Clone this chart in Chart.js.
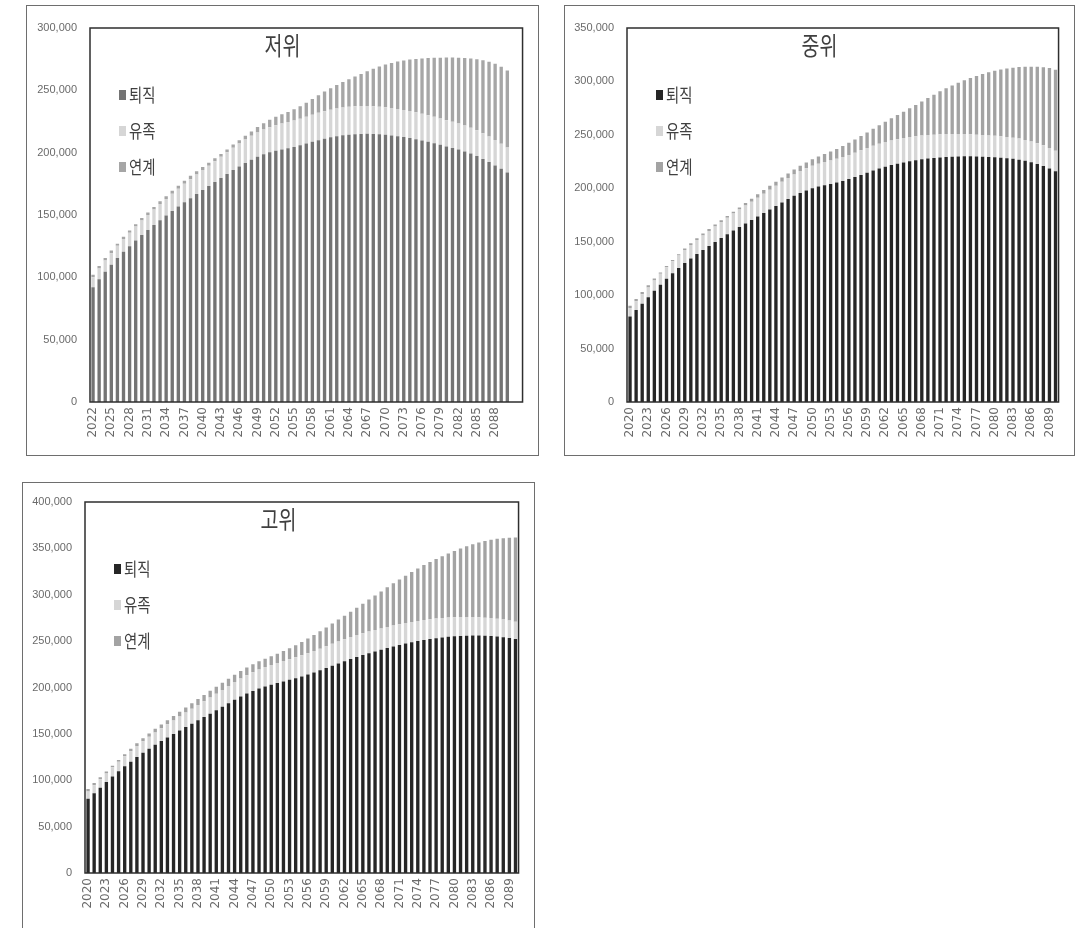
<!DOCTYPE html>
<html>
<head>
<meta charset="utf-8">
<script src="https://cdn.jsdelivr.net/npm/chart.js@4.4.1/dist/chart.umd.min.js"></script>
<style>
  html, body { margin: 0; padding: 0; background: #ffffff; overflow: hidden; width: 1085px; height: 928px; }
  canvas { position: absolute; }
</style>
</head>
<body>
<canvas id="cLow" width="513" height="451" style="left:26px;top:5px;width:513px;height:451px;"></canvas>
<canvas id="cMid" width="511" height="451" style="left:564px;top:5px;width:511px;height:451px;"></canvas>
<canvas id="cHigh" width="513" height="452" style="left:22px;top:482px;width:513px;height:452px;"></canvas>
<script>
// ---------- data ----------
const seriesNames = ['퇴직', '유족', '연계'];
const titles = ['저위', '중위', '고위'];

// 저위 : 2022-2090 (+2 empty slots)
const catsLow = ['2022','2023','2024','2025','2026','2027','2028','2029','2030','2031',
  '2032','2033','2034','2035','2036','2037','2038','2039','2040','2041',
  '2042','2043','2044','2045','2046','2047','2048','2049','2050','2051',
  '2052','2053','2054','2055','2056','2057','2058','2059','2060','2061',
  '2062','2063','2064','2065','2066','2067','2068','2069','2070','2071',
  '2072','2073','2074','2075','2076','2077','2078','2079','2080','2081',
  '2082','2083','2084','2085','2086','2087','2088','2089','2090','',''];
const retireLow = [92000, 98500, 104500, 110000, 115500, 120500, 125000, 129500, 134000, 138000,
  142000, 145800, 149500, 153200, 156800, 160200, 163500, 166800, 170000, 173200,
  176400, 179600, 182800, 186000, 189000, 191800, 194400, 196700, 198700, 200300,
  201600, 202600, 203500, 204600, 205900, 207300, 208700, 210000, 211200, 212300,
  213200, 213900, 214400, 214800, 215000, 215100, 215000, 214700, 214300, 213800,
  213200, 212500, 211700, 210800, 209800, 208700, 207500, 206300, 205000, 203800,
  202500, 201000, 199300, 197300, 195000, 192500, 189800, 187000, 184000];
const survivorLow = [8000, 8500, 9000, 9400, 9800, 10300, 10700, 11200, 11600, 12100,
  12500, 13000, 13400, 13900, 14300, 14800, 15200, 15600, 16000, 16400,
  16800, 17200, 17600, 18000, 18400, 18800, 19200, 19500, 19800, 20100,
  20400, 20700, 21000, 21200, 21400, 21600, 21800, 22000, 22100, 22200,
  22300, 22400, 22400, 22400, 22400, 22300, 22300, 22200, 22100, 22000,
  21900, 21800, 21700, 21600, 21500, 21400, 21300, 21200, 21100, 21000,
  20900, 20800, 20700, 20600, 20500, 20400, 20300, 20200, 20100];
const linkedLow = [2000, 2000, 2000, 2100, 1700, 1700, 1800, 1800, 1900, 1900,
  2000, 2200, 2100, 2400, 2400, 2500, 2800, 2600, 2500, 2400,
  2300, 2200, 2100, 2500, 2600, 2900, 3400, 4300, 5000, 6100,
  6800, 7500, 8200, 9000, 10000, 11100, 12500, 14000, 15700, 17200,
  18800, 20300, 22000, 23800, 25800, 27900, 30000, 32200, 34300, 36200,
  38000, 39700, 41300, 42800, 44300, 45800, 47300, 48700, 50200, 51500,
  52800, 54200, 55600, 57100, 58600, 60000, 61200, 61800, 61900];

// 중위 / 고위 : 2020-2090
const catsMid = ['2020','2021','2022','2023','2024','2025','2026','2027','2028','2029',
  '2030','2031','2032','2033','2034','2035','2036','2037','2038','2039',
  '2040','2041','2042','2043','2044','2045','2046','2047','2048','2049',
  '2050','2051','2052','2053','2054','2055','2056','2057','2058','2059',
  '2060','2061','2062','2063','2064','2065','2066','2067','2068','2069',
  '2070','2071','2072','2073','2074','2075','2076','2077','2078','2079',
  '2080','2081','2082','2083','2084','2085','2086','2087','2088','2089','2090'];
const retireMid = [80000, 86000, 92000, 98000, 104000, 109800, 115300, 120500, 125500, 130000,
  134300, 138400, 142300, 146000, 149800, 153500, 157000, 160400, 163800, 167100,
  170300, 173600, 176900, 180200, 183500, 186800, 190000, 193000, 195700, 198000,
  200000, 201600, 202900, 204100, 205400, 206900, 208600, 210500, 212500, 214600,
  216600, 218500, 220200, 221700, 223000, 224200, 225300, 226300, 227100, 227800,
  228400, 228900, 229300, 229600, 229800, 229900, 229900, 229800, 229600, 229300,
  229000, 228600, 228200, 227600, 226800, 225700, 224300, 222700, 220900, 218600, 216000];
const survivorMid = [8000, 8400, 8800, 9200, 9700, 10200, 10700, 11200, 11700, 12200,
  12700, 13200, 13600, 14000, 14500, 15000, 15400, 15900, 16300, 16800,
  17200, 17600, 18000, 18400, 18800, 19200, 19600, 20000, 20400, 20700,
  21000, 21300, 21600, 21900, 22200, 22400, 22600, 22800, 23000, 23100,
  23200, 23200, 23200, 23100, 23000, 22800, 22600, 22400, 22200, 22000,
  21800, 21600, 21400, 21200, 21000, 20800, 20600, 20400, 20300, 20200,
  20100, 20000, 19900, 19800, 19700, 19600, 19500, 19400, 19300, 19200, 19100];
const linkedMid = [2000, 2100, 2200, 2000, 1800, 1300, 1200, 1100, 1100, 1400,
  1500, 1600, 1700, 1800, 1700, 1600, 1700, 1800, 2000, 2300,
  2800, 3200, 3500, 3700, 3900, 4000, 4200, 4600, 4900, 5500,
  6100, 6800, 7600, 8400, 9200, 10200, 11300, 12400, 13500, 14600,
  15900, 17300, 18900, 20700, 22600, 24700, 27000, 29300, 31900, 34600,
  37400, 40200, 42900, 45500, 48000, 50400, 52700, 54900, 57000, 59000,
  60800, 62500, 64000, 65500, 66900, 68400, 70000, 71600, 73100, 74700, 75900];

const catsHigh = catsMid;
const retireHigh = [80000, 86000, 92000, 98000, 104000, 109600, 115000, 120000, 125000, 129600,
  134000, 138200, 142200, 146000, 149800, 153600, 157400, 161000, 164600, 168200,
  171800, 175400, 179200, 183000, 186800, 190200, 193400, 196200, 198800, 201000,
  203000, 204900, 206600, 208300, 210000, 211900, 213900, 216100, 218500, 221000,
  223500, 226000, 228400, 230700, 232900, 235000, 237000, 238900, 240800, 242600,
  244300, 245900, 247400, 248800, 250100, 251300, 252300, 253200, 254000, 254700,
  255200, 255600, 255900, 256000, 256000, 255800, 255500, 255000, 254300, 253500, 252400];
const survivorHigh = [8000, 8500, 9000, 9400, 9900, 10400, 10900, 11400, 11900, 12400,
  12900, 13300, 13800, 14300, 14700, 15200, 15600, 16100, 16500, 17000,
  17400, 17800, 18200, 18600, 19000, 19400, 19800, 20200, 20600, 21000,
  21300, 21600, 21900, 22200, 22500, 22800, 23000, 23200, 23400, 23500,
  23600, 23700, 23700, 23700, 23600, 23500, 23300, 23100, 22900, 22700,
  22500, 22300, 22100, 21900, 21700, 21500, 21300, 21100, 20900, 20700,
  20500, 20300, 20100, 19900, 19700, 19500, 19300, 19100, 18900, 18700, 18500];
const linkedHigh = [2700, 2500, 2200, 1900, 1600, 1800, 2100, 2600, 2900, 3300,
  3600, 3900, 4100, 4400, 4800, 5100, 5500, 5900, 6400, 6800,
  7300, 7700, 7800, 7900, 7900, 8100, 8300, 8600, 8800, 9100,
  9500, 10000, 10800, 11800, 13000, 14300, 15800, 17300, 18700, 20300,
  21900, 23500, 25300, 27300, 29500, 31900, 34500, 37200, 39900, 42700,
  45500, 48300, 51100, 53900, 56600, 59200, 61800, 64300, 66700, 69100,
  71600, 74000, 76300, 78600, 80700, 82700, 84500, 86200, 87800, 89200, 90700];

const yMaxes = [300000, 350000, 400000];
const yStep = 50000;
const labelEvery = 3;

// ---------- drawing ----------
const deco = {
  id: 'deco',
  beforeDraw(chart) {
    const ctx = chart.ctx;
    ctx.save();
    ctx.fillStyle = '#ffffff';
    ctx.fillRect(0, 0, chart.width, chart.height);
    ctx.restore();
  },
  afterDraw(chart, args, opts) {
    const ctx = chart.ctx, a = chart.chartArea;
    ctx.save();
    // outer box
    ctx.strokeStyle = '#6e6e6e';
    ctx.lineWidth = 1;
    ctx.strokeRect(0.5, 0.5, chart.width - 1, chart.height - 1);
    // plot frame
    ctx.strokeStyle = '#2e2e2e';
    ctx.lineWidth = 1.5;
    ctx.strokeRect(a.left, a.top, a.right - a.left, a.bottom - a.top);
    // title
    ctx.save();
    ctx.fillStyle = '#404040';
    ctx.font = '25px "Noto Sans CJK KR"';
    ctx.textAlign = 'center';
    ctx.textBaseline = 'middle';
    ctx.translate(chart.width / 2 + opts.titleDx, a.top + 17);
    ctx.scale(0.78, 1);
    ctx.fillText(opts.title, 0, 0);
    ctx.restore();
    // legend
    chart.data.datasets.forEach((ds, i) => {
      const y = a.top + 67 + i * 36;
      const x = a.left + 29;
      ctx.fillStyle = ds.backgroundColor;
      ctx.fillRect(x, y - 5, 7, 10);
      ctx.save();
      ctx.fillStyle = '#404040';
      ctx.font = '18px "Noto Sans CJK KR"';
      ctx.textAlign = 'left';
      ctx.textBaseline = 'middle';
      ctx.translate(x + 10, y);
      ctx.scale(0.8, 1);
      ctx.fillText(ds.label, 0, 0);
      ctx.restore();
    });
    ctx.restore();
  }
};

function makeChart(id, cats, retire, survivor, linked, colors, yMax, title, geo) {
  const ctx = document.getElementById(id).getContext('2d');
  return new Chart(ctx, {
    type: 'bar',
    data: {
      labels: cats,
      datasets: [
        { label: seriesNames[0], data: retire, backgroundColor: colors[0] },
        { label: seriesNames[1], data: survivor, backgroundColor: colors[1] },
        { label: seriesNames[2], data: linked, backgroundColor: colors[2] }
      ]
    },
    options: {
      responsive: false,
      animation: false,
      devicePixelRatio: 1,
      layout: { padding: { top: geo.top, right: geo.right, left: 0, bottom: 0 } },
      datasets: { bar: { barPercentage: 0.55, categoryPercentage: 1.0, borderWidth: 0 } },
      plugins: {
        legend: { display: false },
        title: { display: false },
        tooltip: { enabled: false },
        deco: { title: title, titleDx: geo.titleDx }
      },
      scales: {
        x: {
          stacked: true,
          offset: true,
          grid: { display: false, drawTicks: false },
          border: { display: false },
          afterFit(scale) { scale.height = geo.xh; },
          ticks: {
            autoSkip: false,
            minRotation: 90,
            maxRotation: 90,
            padding: 5,
            color: '#6a6a6a',
            font: { family: 'DejaVu Sans', size: 12 },
            callback: function (v, i) {
              return i % labelEvery === 0 ? this.getLabelForValue(v) : '';
            }
          }
        },
        y: {
          stacked: true,
          min: 0,
          max: yMax,
          grid: { display: false, drawTicks: false },
          border: { display: false },
          afterFit(scale) { scale.width = geo.yw; },
          ticks: {
            stepSize: yStep,
            padding: 13,
            color: '#6a6a6a',
            font: { family: 'Liberation Sans', size: 11 },
            callback: (v) => v.toLocaleString('en-US')
          }
        }
      }
    },
    plugins: [deco]
  });
}

const grayLow = ['#747474', '#d6d6d6', '#a6a6a6'];
const grayDark = ['#262626', '#d6d6d6', '#a3a3a3'];

makeChart('cLow', catsLow, retireLow, survivorLow, linkedLow, grayLow, yMaxes[0], titles[0],
  { top: 23, right: 14, yw: 64, xh: 54, titleDx: 0 });
makeChart('cMid', catsMid, retireMid, survivorMid, linkedMid, grayDark, yMaxes[1], titles[1],
  { top: 23, right: 11, yw: 63, xh: 54, titleDx: 0 });
makeChart('cHigh', catsHigh, retireHigh, survivorHigh, linkedHigh, grayDark, yMaxes[2], titles[2],
  { top: 20, right: 15, yw: 63, xh: 61, titleDx: 0 });
</script>
</body>
</html>
